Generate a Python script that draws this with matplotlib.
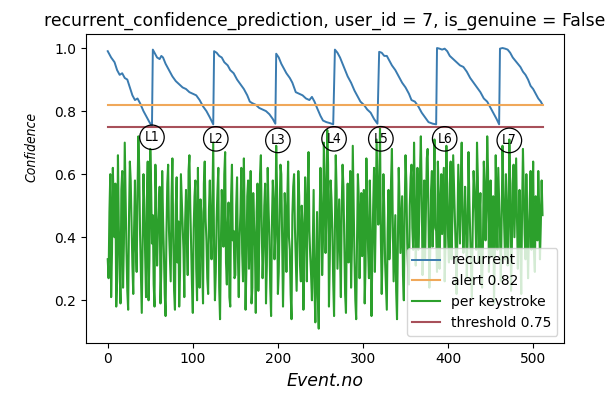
import matplotlib
matplotlib.use("Agg")
import matplotlib.pyplot as plt
import numpy as np

plt.rcParams["font.family"] = ["DejaVu Sans"]

TITLE = "recurrent_confidence_prediction, user_id = 7, is_genuine = False"
ALERT = 0.82
THRESHOLD = 0.75
N_EVENTS = 512

# recurrent confidence, read as (event, value) knots along the sawtooth
recurrent_x = [
    0, 4, 8, 11, 14, 17, 20, 23, 26, 29, 32, 35, 38, 42, 46, 49, 52,
    53, 55, 58, 61, 63, 65, 68, 72, 76, 80, 84, 88, 92, 96, 100, 104, 108, 112, 116, 120, 124,
    125, 128, 131, 134, 137, 141, 144, 148, 152, 156, 160, 164, 167, 170, 174, 178, 182, 186, 190, 194, 197,
    198, 201, 204, 207, 210, 214, 217, 221, 225, 229, 233, 237, 240, 243, 246, 250, 253, 257, 261, 265,
    267, 270, 273, 276, 279, 282, 286, 290, 294, 297, 301, 305, 309, 313, 317,
    319, 322, 325, 328, 331, 334, 338, 342, 346, 350, 354, 357, 361, 365, 369, 373, 377, 382, 386,
    387, 390, 393, 396, 399, 402, 406, 410, 414, 418, 422, 426, 430, 434, 438, 442, 446, 450, 454, 457, 460,
    461, 464, 467, 470, 473, 476, 479, 482, 485, 488, 491, 494, 497, 500, 503, 506, 509, 511,
]
recurrent_y = [
    0.99, 0.97, 0.955, 0.93, 0.915, 0.92, 0.905, 0.90, 0.875, 0.85, 0.835, 0.84, 0.825, 0.80, 0.78, 0.765, 0.752,
    0.995, 0.985, 0.97, 0.965, 0.975, 0.97, 0.95, 0.93, 0.91, 0.895, 0.885, 0.875, 0.87, 0.86, 0.855, 0.85, 0.835,
    0.815, 0.80, 0.78, 0.758,
    0.99, 0.985, 0.975, 0.97, 0.955, 0.945, 0.93, 0.92, 0.90, 0.885, 0.87, 0.85, 0.83, 0.825, 0.82, 0.81, 0.805,
    0.80, 0.79, 0.775, 0.76,
    0.982, 0.97, 0.95, 0.935, 0.92, 0.905, 0.89, 0.86, 0.855, 0.85, 0.84, 0.835, 0.845, 0.83, 0.81, 0.785, 0.77,
    0.765, 0.762, 0.758,
    0.995, 0.985, 0.97, 0.95, 0.93, 0.91, 0.89, 0.865, 0.845, 0.83, 0.82, 0.805, 0.795, 0.775, 0.76,
    0.988, 0.985, 0.975, 0.975, 0.96, 0.945, 0.93, 0.91, 0.89, 0.875, 0.855, 0.835, 0.83, 0.815, 0.795, 0.78,
    0.765, 0.76, 0.758,
    1.0, 0.998, 0.995, 0.998, 0.99, 0.975, 0.965, 0.955, 0.945, 0.94, 0.925, 0.905, 0.89, 0.875, 0.86, 0.84,
    0.83, 0.81, 0.79, 0.775, 0.758,
    0.998, 1.0, 0.998, 0.995, 0.985, 0.97, 0.96, 0.95, 0.94, 0.925, 0.915, 0.90, 0.88, 0.87, 0.855, 0.84, 0.83, 0.82,
]

# per keystroke confidence, one value per event
keystroke = [
    0.33, 0.27, 0.48, 0.60, 0.21, 0.35, 0.62, 0.50, 0.40, 0.57, 0.18, 0.26, 0.66, 0.44, 0.30, 0.19,
    0.55, 0.61, 0.24, 0.38, 0.70, 0.52, 0.36, 0.23, 0.17, 0.46, 0.64, 0.58, 0.45, 0.31,
    0.22, 0.43, 0.58, 0.37, 0.29, 0.54, 0.72, 0.62, 0.41, 0.28, 0.16, 0.39, 0.60, 0.49, 0.34, 0.21,
    0.52, 0.64, 0.20, 0.33, 0.68, 0.56, 0.38, 0.47, 0.25, 0.18, 0.63, 0.51, 0.31, 0.42,
    0.47, 0.56, 0.19, 0.30, 0.61, 0.46, 0.35, 0.22, 0.15, 0.41, 0.57, 0.63, 0.42, 0.34, 0.26, 0.53,
    0.65, 0.40, 0.23, 0.17, 0.50, 0.59, 0.32, 0.45, 0.18, 0.29, 0.60, 0.52, 0.44, 0.36,
    0.21, 0.45, 0.55, 0.40, 0.28, 0.61, 0.66, 0.50, 0.37, 0.25, 0.16, 0.43, 0.53, 0.58, 0.30, 0.20,
    0.62, 0.35, 0.24, 0.52, 0.48, 0.31, 0.19, 0.57, 0.64, 0.46, 0.39, 0.27, 0.22, 0.49,
    0.58, 0.41, 0.33, 0.52, 0.70, 0.36, 0.20, 0.29, 0.46, 0.55, 0.62, 0.24, 0.14, 0.38, 0.55, 0.47,
    0.37, 0.60, 0.67, 0.32, 0.25, 0.44, 0.51, 0.21, 0.18, 0.53, 0.63, 0.39, 0.42, 0.27,
    0.28, 0.50, 0.59, 0.34, 0.21, 0.40, 0.48, 0.62, 0.35, 0.26, 0.65, 0.45, 0.17, 0.31, 0.53, 0.58,
    0.30, 0.42, 0.61, 0.19, 0.24, 0.54, 0.44, 0.37, 0.16, 0.48, 0.57, 0.23, 0.38, 0.60,
    0.66, 0.43, 0.27, 0.36, 0.50, 0.57, 0.19, 0.31, 0.62, 0.49, 0.40, 0.24, 0.15, 0.45, 0.58, 0.52,
    0.33, 0.41, 0.69, 0.55, 0.22, 0.29, 0.47, 0.63, 0.60, 0.38, 0.18, 0.34, 0.54, 0.46,
    0.29, 0.51, 0.64, 0.40, 0.36, 0.22, 0.14, 0.47, 0.56, 0.60, 0.43, 0.33, 0.23, 0.39, 0.61, 0.53,
    0.31, 0.26, 0.50, 0.44, 0.17, 0.36, 0.59, 0.48, 0.26, 0.55, 0.67, 0.42, 0.34, 0.28,
    0.20, 0.37, 0.55, 0.24, 0.13, 0.30, 0.48, 0.21, 0.11, 0.45, 0.62, 0.50, 0.28, 0.39, 0.70, 0.58,
    0.35, 0.47, 0.74, 0.63, 0.18, 0.33, 0.58, 0.52, 0.42, 0.26, 0.15, 0.43, 0.66, 0.55,
    0.30, 0.41, 0.52, 0.35, 0.21, 0.49, 0.63, 0.56, 0.38, 0.22, 0.16, 0.44, 0.57, 0.32, 0.45, 0.61,
    0.24, 0.37, 0.69, 0.50, 0.33, 0.20, 0.14, 0.39, 0.60, 0.53, 0.27, 0.46, 0.54, 0.34,
    0.41, 0.55, 0.19, 0.31, 0.65, 0.48, 0.36, 0.27, 0.58, 0.43, 0.15, 0.34, 0.50, 0.62, 0.29, 0.46,
    0.71, 0.57, 0.44, 0.52, 0.75, 0.40, 0.22, 0.35, 0.60, 0.49, 0.32, 0.24, 0.17, 0.42,
    0.55, 0.33, 0.40, 0.58, 0.68, 0.45, 0.26, 0.37, 0.47, 0.23, 0.14, 0.39, 0.62, 0.51, 0.35, 0.44,
    0.53, 0.28, 0.20, 0.48, 0.66, 0.57, 0.38, 0.30, 0.25, 0.50, 0.59, 0.63, 0.43, 0.36,
    0.70, 0.52, 0.31, 0.44, 0.62, 0.36, 0.45, 0.60, 0.72, 0.55, 0.28, 0.40, 0.58, 0.33, 0.49, 0.65,
    0.68, 0.47, 0.24, 0.35, 0.55, 0.61, 0.37, 0.50, 0.71, 0.43, 0.42, 0.29, 0.64, 0.54,
    0.30, 0.48, 0.60, 0.41, 0.51, 0.62, 0.26, 0.38, 0.69, 0.53, 0.40, 0.32, 0.57, 0.64, 0.33, 0.45,
    0.66, 0.56, 0.46, 0.36, 0.22, 0.42, 0.63, 0.51, 0.38, 0.58, 0.70, 0.47, 0.35, 0.43,
    0.56, 0.45, 0.27, 0.39, 0.67, 0.52, 0.41, 0.30, 0.21, 0.44, 0.61, 0.55, 0.48, 0.36, 0.70, 0.59,
    0.32, 0.47, 0.54, 0.28, 0.24, 0.38, 0.64, 0.57, 0.39, 0.49, 0.72, 0.61, 0.29, 0.40,
    0.58, 0.34, 0.45, 0.53, 0.19, 0.35, 0.66, 0.48, 0.36, 0.62, 0.52, 0.41, 0.26, 0.46, 0.69, 0.55,
    0.43, 0.33, 0.60, 0.50, 0.31, 0.44, 0.71, 0.58, 0.23, 0.37, 0.57, 0.63, 0.40, 0.52,
    0.65, 0.46, 0.30, 0.42, 0.55, 0.37, 0.22, 0.49, 0.68, 0.54, 0.41, 0.33, 0.60, 0.45, 0.27, 0.40,
    0.52, 0.61, 0.36, 0.47, 0.64, 0.35, 0.29, 0.53, 0.48, 0.39, 0.61, 0.50, 0.33, 0.44, 0.58, 0.47,
]

# lock-out markers below each trough
lock_labels = ["L1", "L2", "L3", "L4", "L5", "L6", "L7"]
lock_x = [52, 127, 200, 266, 321, 396, 472]
lock_y = [0.717, 0.712, 0.707, 0.712, 0.712, 0.712, 0.707]


def main() -> None:
    fig, ax = plt.subplots(figsize=(6.16, 3.93), dpi=100)
    fig.subplots_adjust(left=0.1396, right=0.916, top=0.9135, bottom=0.128)

    events = np.arange(N_EVENTS)
    ax.plot(recurrent_x, recurrent_y, color="#3a7bb0", lw=1.4, label="recurrent")
    ax.plot(events, np.full(N_EVENTS, ALERT), color="#f0a85a", lw=1.5, label=f"alert {ALERT}")
    ax.plot(events, keystroke, color="#2ca02c", lw=1.5, label="per keystroke")
    ax.plot(events, np.full(N_EVENTS, THRESHOLD), color="#a8505a", lw=1.5, label=f"threshold {THRESHOLD}")

    for label, x, y in zip(lock_labels, lock_x, lock_y):
        ax.text(x, y, label, ha="center", va="center", fontsize=10, fontstretch="condensed",
                bbox=dict(boxstyle="circle,pad=0.35", fc="none", ec="black", lw=0.9))

    ax.set_title(TITLE, fontsize=12.4)
    ax.set_xlabel("Event.no", fontsize=12.5, style="italic")
    ax.set_ylabel("Confidence", fontsize=10, style="italic", fontstretch="condensed", va="center")
    ax.yaxis.set_label_coords(-0.115, 0.634)
    ax.tick_params(labelsize=10)
    ax.legend(loc="lower right", fontsize=10)

    fig.savefig("out.png", dpi=100)
    plt.close(fig)


if __name__ == "__main__":
    main()
